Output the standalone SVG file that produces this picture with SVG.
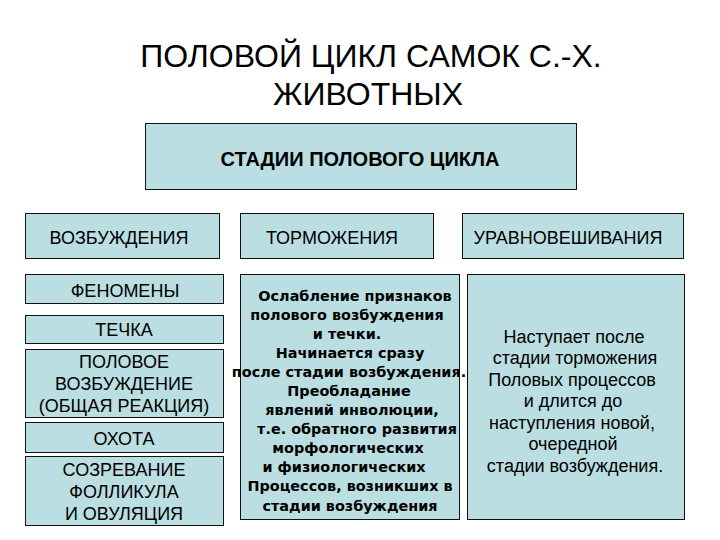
<svg xmlns="http://www.w3.org/2000/svg" width="720" height="540" viewBox="0 0 720 540">
<style>
.box{fill:#badee1;stroke:#111;stroke-width:1}
.t{font-family:"Liberation Sans",Arial,sans-serif;font-size:18px;fill:#000;text-anchor:middle}
.title{font-family:"Liberation Sans",Arial,sans-serif;font-size:32px;fill:#000;text-anchor:middle}
.b{font-weight:bold;font-size:20px}
.m{font-family:"DejaVu Sans",Verdana,sans-serif;font-size:14.4px;font-weight:bold;fill:#000;text-anchor:middle}
</style>
<rect width="720" height="540" fill="#fff"/>
<g id="title">
<text class="title" x="371" y="67">ПОЛОВОЙ ЦИКЛ САМОК С.-Х.</text>
<text class="title" x="368" y="105">ЖИВОТНЫХ</text>
</g>
<g id="connectors"></g>
<g id="stages">
<rect class="box" x="145.5" y="123.5" width="431" height="66"/>
<text class="t b" x="360" y="166">СТАДИИ ПОЛОВОГО ЦИКЛА</text>
</g>
<g id="excitation">
<rect class="box" x="25.5" y="213.5" width="194" height="45"/>
<text class="t" x="119" y="244">ВОЗБУЖДЕНИЯ</text>
</g>
<g id="inhibition">
<rect class="box" x="240.5" y="213.5" width="193" height="45"/>
<text class="t" x="332" y="244">ТОРМОЖЕНИЯ</text>
</g>
<g id="balancing">
<rect class="box" x="462.5" y="213.5" width="221" height="45"/>
<text class="t" x="568" y="244">УРАВНОВЕШИВАНИЯ</text>
</g>
<g id="phenomena">
<rect class="box" x="25.5" y="274.5" width="198" height="29"/>
<text class="t" x="125" y="297">ФЕНОМЕНЫ</text>
</g>
<g id="estrus">
<rect class="box" x="25.5" y="315.5" width="198" height="28"/>
<text class="t" x="124" y="336">ТЕЧКА</text>
</g>
<g id="sexual-excitation">
<rect class="box" x="25.5" y="349.5" width="198" height="68"/>
<text class="t" x="124" y="368">ПОЛОВОЕ</text>
<text class="t" x="124" y="390">ВОЗБУЖДЕНИЕ</text>
<text class="t" x="124" y="412">(ОБЩАЯ РЕАКЦИЯ)</text>
</g>
<g id="hunt">
<rect class="box" x="25.5" y="422.5" width="198" height="30"/>
<text class="t" x="124" y="445">ОХОТА</text>
</g>
<g id="ovulation">
<rect class="box" x="25.5" y="456.5" width="198" height="69"/>
<text class="t" x="124" y="476">СОЗРЕВАНИЕ</text>
<text class="t" x="124" y="498">ФОЛЛИКУЛА</text>
<text class="t" x="124" y="520">И ОВУЛЯЦИЯ</text>
</g>
<g id="inhibition-desc">
<rect class="box" x="240.5" y="274.5" width="219" height="245"/>
<text class="m" x="355" y="301">Ослабление признаков</text>
<text class="m" x="347" y="320">полового возбуждения</text>
<text class="m" x="347" y="339">и течки.</text>
<text class="m" x="350" y="358">Начинается сразу</text>
<text class="m" x="349" y="377">после стадии возбуждения.</text>
<text class="m" x="349" y="396">Преобладание</text>
<text class="m" x="352" y="415">явлений инволюции,</text>
<text class="m" x="357" y="434">т.е. обратного развития</text>
<text class="m" x="348" y="453">морфологических</text>
<text class="m" x="344" y="472">и физиологических</text>
<text class="m" x="350" y="491">Процессов, возникших в</text>
<text class="m" x="350" y="511">стадии возбуждения</text>
</g>
<g id="balancing-desc">
<rect class="box" x="467.5" y="274.5" width="217" height="245"/>
<text class="t" x="574" y="343">Наступает после</text>
<text class="t" x="575" y="364">стадии торможения</text>
<text class="t" x="572" y="386">Половых процессов</text>
<text class="t" x="573" y="407">и длится до</text>
<text class="t" x="572" y="429">наступления новой,</text>
<text class="t" x="573" y="450">очередной</text>
<text class="t" x="575" y="472">стадии возбуждения.</text>
</g>
</svg>
